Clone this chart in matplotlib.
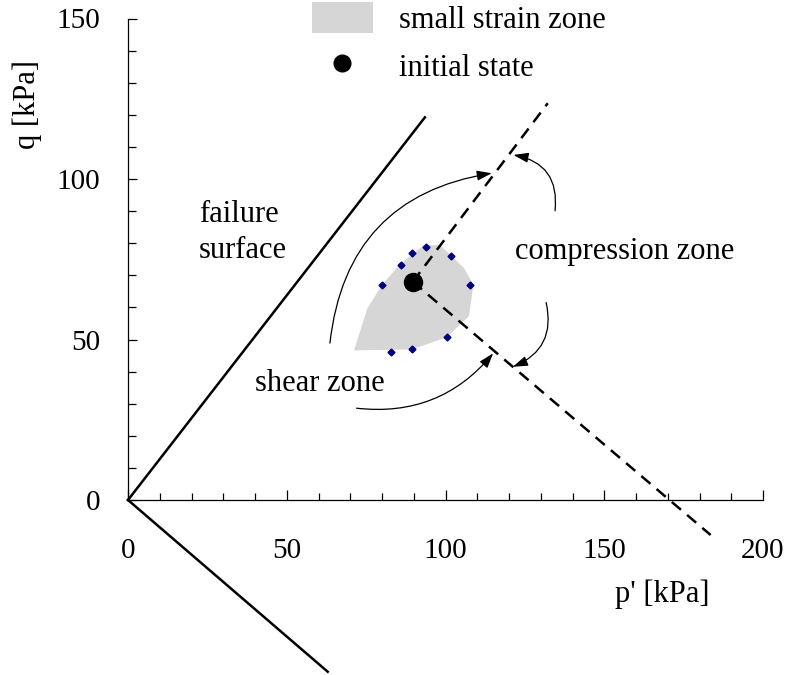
import matplotlib

matplotlib.use("Agg")
import matplotlib.pyplot as plt
import numpy as np
from matplotlib.lines import Line2D
from matplotlib.patches import FancyArrowPatch, Patch
from matplotlib.ticker import FixedLocator

plt.rcParams["font.family"] = ["Liberation Serif", "DejaVu Serif"]

# failure lines (compression and extension side)
failure_p = [0, 93.5]
failure_q = [0, 119.2]
extension_p = [0, 62.9]
extension_q = [0, -53.5]

# initial state and the two stress paths from it
initial_p = 89.7
initial_q = 68.0
comp_path_p = [initial_p, 132.2]
comp_path_q = [initial_q, 123.6]
shear_path_p = [initial_p, 183.5]
shear_path_q = [initial_q, -10.9]

# small strain zone outline
zone_p = [71.2, 89.4, 100.4, 107.4, 108.8, 105.8, 98.3, 93.2, 85.7, 80.0, 75.3]
zone_q = [46.6, 46.9, 50.7, 57.3, 67.0, 72.3, 79.4, 79.4, 73.5, 67.0, 59.5]

# measured points on the zone boundary
pts_p = [93.8, 89.6, 101.7, 85.9, 79.9, 107.7, 100.4, 89.6, 82.7]
pts_q = [78.9, 76.9, 76.1, 73.2, 67.0, 67.0, 50.7, 47.0, 46.0]

# curved arrows: (start, end, curvature)
arrows = [
    ((63.6, 48.9), (114.6, 101.8), -0.38),
    ((134.5, 90.1), (121.4, 107.5), 0.46),
    ((131.7, 61.5), (121.2, 41.5), -0.42),
    ((72.0, 28.6), (115.0, 45.7), 0.27),
]

x_major = [0, 50, 100, 150, 200]
y_major = [0, 50, 100, 150]

zone_color = "#d6d6d6"
fs = 22

fig = plt.figure(figsize=(7.88, 6.75), dpi=100)
ax = fig.add_axes([0, 0, 1, 1])
ax.set_xlim(-128 / 3.175, 660 / 3.175)
ax.set_ylim(-175 / 3.21, 500 / 3.21)

# axes through the origin
for side in ["top", "right"]:
    ax.spines[side].set_visible(False)
ax.spines["left"].set_position(("data", 0))
ax.spines["bottom"].set_position(("data", 0))
ax.spines["left"].set_bounds(0, 150)
ax.spines["bottom"].set_bounds(0, 200)
ax.spines["left"].set_linewidth(0.9)
ax.spines["bottom"].set_linewidth(0.9)

ax.xaxis.set_major_locator(FixedLocator(x_major))
ax.xaxis.set_minor_locator(FixedLocator(np.arange(0, 201, 10)))
ax.yaxis.set_major_locator(FixedLocator(y_major))
ax.yaxis.set_minor_locator(FixedLocator(np.arange(0, 151, 10)))
ax.tick_params(axis="x", which="major", direction="in", length=7.2, width=0.9,
               pad=27, labelsize=21)
ax.tick_params(axis="x", which="minor", direction="in", length=5.4, width=0.9)
ax.tick_params(axis="y", which="major", direction="in", length=6.5, width=0.9,
               pad=20, labelsize=21)
ax.tick_params(axis="y", which="minor", direction="in", length=6.0, width=0.9)

# zone and points
ax.fill(zone_p, zone_q, color=zone_color, lw=0, zorder=1)
ax.plot(failure_p, failure_q, color="black", lw=1.8, zorder=2)
ax.plot(extension_p, extension_q, color="black", lw=1.8, zorder=2)
ax.plot(comp_path_p, comp_path_q, color="black", lw=1.8, dashes=(4.8, 3.2), zorder=3)
ax.plot(shear_path_p, shear_path_q, color="black", lw=1.8, dashes=(4.8, 3.2), zorder=3)
ax.plot(pts_p, pts_q, ls="none", marker="D", markersize=3.5, color="#00007f", zorder=4)
ax.plot([initial_p], [initial_q], ls="none", marker="o", markersize=13, color="black", zorder=5)

for start, end, rad in arrows:
    arr = FancyArrowPatch(start, end, connectionstyle=f"arc3,rad={rad}",
                          arrowstyle="-|>,head_length=0.9,head_width=0.3",
                          mutation_scale=10, lw=0.9, color="black",
                          shrinkA=0, shrinkB=0, zorder=4)
    ax.add_patch(arr)

# annotations
ax.text(22.4, 75.4, "failure\nsurface", fontsize=fs, ha="left", va="baseline",
        linespacing=1.3)
ax.text(121.9, 75.1, "compression zone", fontsize=fs, ha="left", va="baseline")
ax.text(40.0, 34.1, "shear zone", fontsize=fs, ha="left", va="baseline")

ax.text(0.034, 0.845, "q [kPa]", fontsize=fs, rotation=90, ha="center", va="center",
        transform=ax.transAxes)
ax.text(0.841, 0.119, "p' [kPa]", fontsize=fs, ha="center", va="center",
        transform=ax.transAxes)

handles = [
    Patch(facecolor=zone_color, edgecolor="none"),
    Line2D([], [], ls="none", marker="o", markersize=12, color="black"),
]
ax.legend(handles, ["small strain zone", "initial state"], loc="upper left",
          bbox_to_anchor=(0.3955, 0.997), frameon=False, fontsize=fs,
          handlelength=2.0, handleheight=1.2, handletextpad=0.86,
          labelspacing=0.5, borderaxespad=0, borderpad=0)

plt.savefig("out.png", dpi=100)
plt.close()
